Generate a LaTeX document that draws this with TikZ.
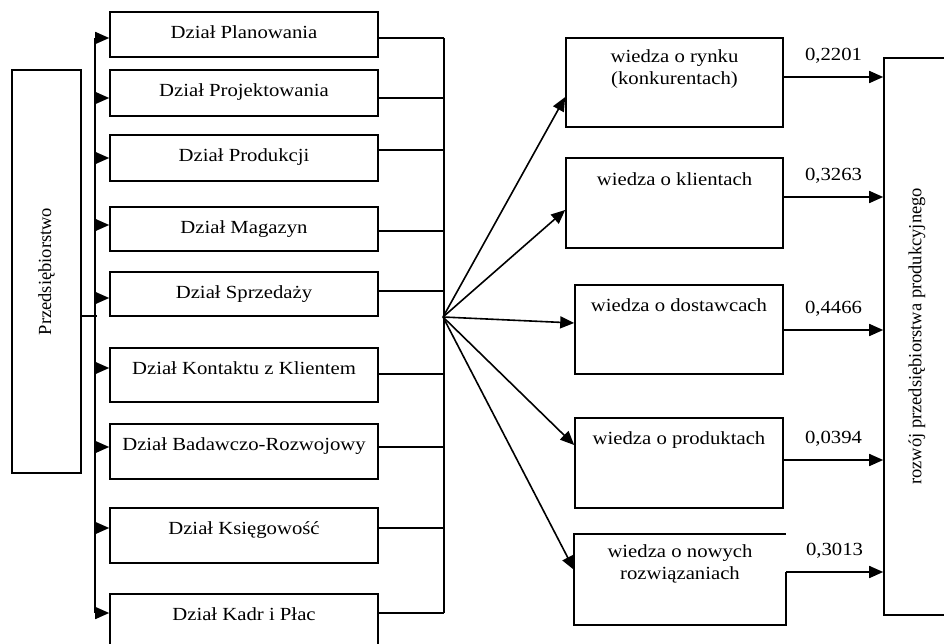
\documentclass[tikz,border=0pt]{standalone}
\usepackage{fontspec}
\setmainfont[FakeStretch=1.12]{Liberation Serif}
\newfontfamily\plainserif{Liberation Serif}
\usetikzlibrary{arrows.meta}

\begin{document}
\begin{tikzpicture}
    [
    x=1pt, y=-1pt,
    line width=1.6pt,
    every node/.style={font=\fontsize{18.5}{22}\selectfont},
    box/.style={draw, inner sep=0pt},
    dept/.style={box, minimum width=268pt},
    wiedza/.style={box, minimum height=89pt},
    txt/.style={anchor=north, inner sep=0pt, align=center, yshift=-14pt},
    side/.style={box, rotate=90, font=\plainserif\fontsize{18.5}{22}\selectfont},
    arr/.style={-{Triangle[length=14pt,width=12pt]}},
    val/.style={midway, above=10pt},
    ]
    \useasboundingbox (0,0) rectangle (944,644);

    \node[side, minimum width=403pt, minimum height=69pt] (firma) at (46.5,271.5) {Przedsiębiorstwo};

    % dzialy
    \node[dept, minimum height=45pt, label={[txt]north:Dział Planowania}] (d1) at (244,34.5) {};
    \node[dept, minimum height=46pt, label={[txt]north:Dział Projektowania}] (d2) at (244,93) {};
    \node[dept, minimum height=46pt, label={[txt]north:Dział Produkcji}] (d3) at (244,158) {};
    \node[dept, minimum height=44pt, label={[txt]north:Dział Magazyn}] (d4) at (244,229) {};
    \node[dept, minimum height=44pt, label={[txt]north:Dział Sprzedaży}] (d5) at (244,294) {};
    \node[dept, minimum height=54pt, label={[txt]north:Dział Kontaktu z Klientem}] (d6) at (244,375) {};
    \node[dept, minimum height=55pt, label={[txt]north:Dział Badawczo-Rozwojowy}] (d7) at (244,451.5) {};
    \node[dept, minimum height=55pt, label={[txt]north:Dział Księgowość}] (d8) at (244,535.5) {};
    \node[dept, minimum height=60pt, label={[txt]north:Dział Kadr i Płac}] (d9) at (244,624) {};

    % wiedza
    \node[wiedza, minimum width=217pt, label={[txt, yshift=2pt]north:{wiedza o rynku\\(konkurentach)}}] (k1) at (674.5,82.5) {};
    \node[wiedza, minimum width=217pt, minimum height=90pt, label={[txt, yshift=-1pt]north:wiedza o klientach}] (k2) at (674.5,203) {};
    \node[wiedza, minimum width=208pt, label={[txt]north:wiedza o dostawcach}] (k3) at (679,329.5) {};
    \node[wiedza, minimum width=208pt, minimum height=90pt, label={[txt]north:wiedza o produktach}] (k4) at (679,463) {};
    \node[wiedza, draw=none, minimum width=210pt, label={[txt, yshift=4pt]north:{wiedza o nowych\\rozwiązaniach}}] (k5) at (680,579.5) {};

    \node[side, minimum width=557pt, minimum height=66pt] (rozwoj) at (917,336.5) {rozwój przedsiębiorstwa produkcyjnego};

    % polaczenia
    \draw ([yshift=-44.5pt]firma.south) -- ++(15,0);
    \draw ([xshift=-14pt,yshift=-3.5pt]d1.west) -- ([xshift=-14pt,yshift=11pt]d9.west);
    \draw ([xshift=65pt,yshift=-3.5pt]d1.east) -- ([xshift=65pt,yshift=11pt]d9.east);
    \foreach \d/\l/\r in {d1/-3.5/-3.5, d2/-5/-5, d3/0/8, d4/4/-2, d5/-4/3, d6/7/1, d7/4.5/4.5, d8/7.5/7.5, d9/11/11}
    {
      \draw[arr] ([xshift=-14pt,yshift=\l]\d.west) -- ([yshift=\l]\d.west);
      \draw ([yshift=\r]\d.east) -- ++(65,0);
    }

    \coordinate (hub) at (443,317);
    \foreach \k/\s in {k1/-14.5, k2/-7, k3/6.5, k4/18, k5/9.5}
      \draw[arr] (hub) -- ([yshift=\s]\k.west);

    \path ([yshift=5.5]k1.east) coordinate (o1)
          ([yshift=6]k2.east) coordinate (o2)
          ([yshift=-0.5]k3.east) coordinate (o3)
          ([yshift=3]k4.east) coordinate (o4)
          ([yshift=7.5]k5.east) coordinate (o5);
    \draw (o5) -- (k5.south east) -- (k5.south west) -- (k5.north west) -- (k5.north east);

    \draw[arr] (o1) -- node[val] {0,2201} (o1 -| rozwoj.north);
    \draw[arr] (o2) -- node[val] {0,3263} (o2 -| rozwoj.north);
    \draw[arr] (o3) -- node[val] {0,4466} (o3 -| rozwoj.north);
    \draw[arr] (o4) -- node[val] {0,0394} (o4 -| rozwoj.north);
    \draw[arr] (o5) -- node[val] {0,3013} (o5 -| rozwoj.north);
  \end{tikzpicture}
\end{document}
